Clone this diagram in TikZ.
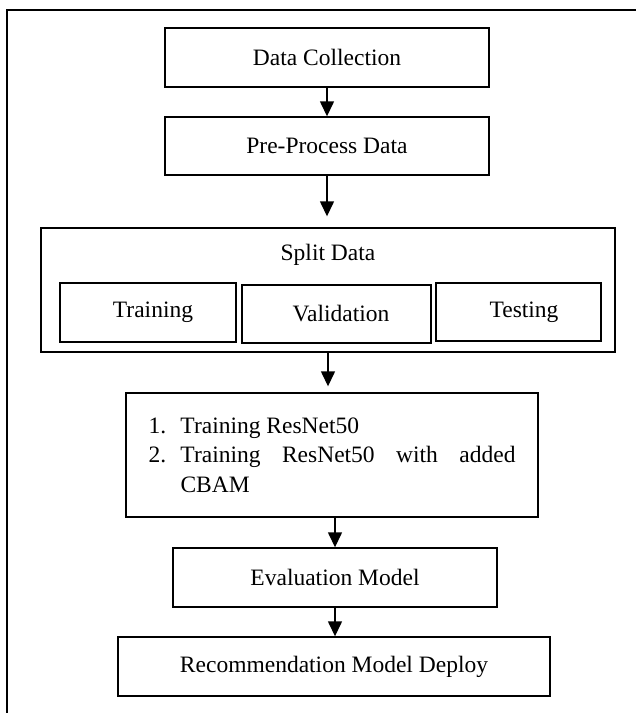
\documentclass[tikz,border=0pt]{standalone}
\usepackage{fontspec}
\setmainfont{Liberation Serif}
\usetikzlibrary{arrows.meta}
\begin{document}
\begin{tikzpicture}[x=1pt,y=-1pt,
  every node/.style={font=\fontsize{23.5}{29.5}\selectfont},
  box/.style={draw, line width=1.4pt, inner sep=0pt},
  flow/.style={line width=1.4pt, -{Triangle[length=15pt,width=14pt]}}]
\useasboundingbox (0,0) rectangle (636,713);
\fill[white] (0,0) rectangle (636,713);
% open frame: left and top edges only
\coordinate (fb) at (7,713);
\coordinate (fc) at (7,10);
\coordinate (fr) at (636,10);
\draw[line width=1.4pt] (fb) -- (fc) -- (fr);

% process steps
\node[box, minimum width=324pt, minimum height=59pt] (collect) at (327,57.5) {Data Collection};
\node[box, minimum width=324pt, minimum height=58pt] (prep) at (327,146) {Pre-Process Data};
\node[box, minimum width=574pt, minimum height=124pt] (split) at (328,290) {};
\node (splitlbl) at (328,255) {Split Data};
\node[box, minimum width=176pt, minimum height=59pt] (tr) at (148,312.5) {\hspace*{10pt}Training};
\node[box, minimum width=189pt, minimum height=58pt] (va) at (336.5,314) {\hspace*{9pt}Validation};
\node[box, minimum width=165pt, minimum height=58pt] (te) at (518.5,312) {\hspace*{11pt}Testing};
\node[box, minimum width=412pt, minimum height=124pt, align=left] (models) at (332,455)
  {\makebox[32pt][l]{1.}Training ResNet50\\
   \makebox[32pt][l]{2.}\makebox[335pt][l]{Training\hfill ResNet50\hfill with\hfill added}\\
   \hspace*{32pt}CBAM};
\node[box, minimum width=324pt, minimum height=59pt] (eval) at (335,577.5) {Evaluation Model};
\node[box, minimum width=432pt, minimum height=59pt] (deploy) at (334,666.5) {Recommendation Model Deploy};

% connectors
\draw[flow] (collect.south) -- (prep.north);
\draw[flow, shorten >=11pt] (prep.south) -- (prep.south |- split.north);
\draw[flow, shorten >=6pt] (split.south) -- (split.south |- models.north);
\draw[flow] (eval.north |- models.south) -- (eval.north);
\draw[flow] (eval.south) -- (eval.south |- deploy.north);
\end{tikzpicture}
\end{document}
